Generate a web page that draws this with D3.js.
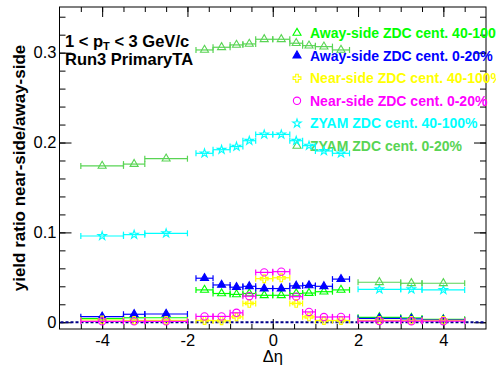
<!DOCTYPE html>
<html lang="en">
<head>
  <meta charset="UTF-8">
  <title>Yield ratio vs delta eta</title>
  <script src="https://d3js.org/d3.v7.min.js"></script>
  <style>
    body { margin: 0; background: #fff; }
    text { font-family: "Liberation Sans", Arial, Helvetica, sans-serif; }
  </style>
</head>
<body>
<svg id="chart"></svg>
<script>
  // bin centres and half widths (near-side region, then far region)
  const nearX = [-1.6, -1.2, -0.85, -0.55, -0.2, 0.2, 0.55, 0.85, 1.2, 1.6];
  const nearXerr = [0.2, 0.2, 0.15, 0.15, 0.2, 0.2, 0.15, 0.15, 0.2, 0.2];
  const farX = [-4, -3.25, -2.5, 2.5, 3.25, 4];
  const farXerr = [0.5, 0.25, 0.5, 0.5, 0.25, 0.5];

  // series values: near bins followed by far bins
  const awayPeri = [0.036, 0.032, 0.031, 0.032, 0.030, 0.030, 0.032, 0.0325, 0.034, 0.036,
                    0.004, 0.005, 0.005, 0.0055, 0.0048, 0.0033];
  const awayCent = [0.049, 0.0415, 0.039, 0.040, 0.0375, 0.0375, 0.0405, 0.041, 0.040, 0.048,
                    0.0062, 0.0089, 0.0092, 0.0044, 0.0037, 0.0026];
  const nearPeri = [0.002, 0.0017, 0.006, 0.021, 0.0485, 0.0495, 0.021, 0.006, 0.002, 0.002,
                    0.0025, 0.002, 0.002, 0.002, 0.002, 0.002];
  const nearCent = [0.0065, 0.0065, 0.0105, 0.029, 0.0555, 0.0563, 0.0285, 0.0115, 0.0058, 0.006,
                    0.001, 0.001, 0.001, 0.0013, 0.0012, 0.0012];
  const zyamPeri = [0.188, 0.192, 0.1955, 0.202, 0.209, 0.209, 0.202, 0.1965, 0.1906, 0.188,
                    0.096, 0.0975, 0.099, 0.0367, 0.0367, 0.036];
  const zyamCent = [0.303, 0.306, 0.3086, 0.3097, 0.3149, 0.3149, 0.3105, 0.3078, 0.3067, 0.303,
                    0.174, 0.176, 0.182, 0.0445, 0.0434, 0.0434];

  const xMajor = [-4, -2, 0, 2, 4];
  const xMinor = d3.range(-4.5, 5, 0.5);
  const yMajor = [0, 0.1, 0.2, 0.3];
  const yMinor = d3.range(0, 0.35, 0.02);

  const series = [
    { name: "Away-side ZDC cent. 40-100%", values: awayPeri, color: "#00ff00", symbol: d3.symbolTriangle, filled: false },
    { name: "Away-side ZDC cent. 0-20%", values: awayCent, color: "#0000ff", symbol: d3.symbolTriangle, filled: true },
    { name: "Near-side ZDC cent. 40-100%", values: nearPeri, color: "#ffff00", symbol: d3.symbolCross, filled: false },
    { name: "Near-side ZDC cent. 0-20%", values: nearCent, color: "#ff00ff", symbol: d3.symbolCircle, filled: false },
    { name: "ZYAM ZDC cent. 40-100%", values: zyamPeri, color: "#00ffff", symbol: d3.symbolStar, filled: false },
    { name: "ZYAM ZDC cent. 0-20%", values: zyamCent, color: "#59d454", symbol: d3.symbolTriangle, filled: false }
  ];
  const symSize = new Map([[d3.symbolTriangle, 28], [d3.symbolCross, 34], [d3.symbolCircle, 42], [d3.symbolStar, 22]]);

  const W = 496, H = 374;
  const frame = { left: 59.5, right: 486, top: 7, bottom: 329 };

  const svg = d3.select("#chart").attr("width", W).attr("height", H);

  const x = d3.scaleLinear().domain([-5, 5]).range([frame.left, frame.right]);
  const y = d3.scaleLinear().domain([-0.0075, 0.3508]).range([frame.bottom, frame.top]);

  const allX = nearX.concat(farX);
  const allXerr = nearXerr.concat(farXerr);

  // axes: ticks point into the frame
  function axisGroup(axis, transform) {
    const g = svg.append("g").attr("transform", transform).call(axis);
    g.select(".domain").remove();
    g.selectAll(".tick line").attr("stroke", "#000");
    return g;
  }
  const bottom = `translate(0,${frame.bottom})`;
  axisGroup(d3.axisBottom(x).tickValues(xMinor).tickSize(-5).tickFormat(""), bottom);
  axisGroup(d3.axisTop(x).tickValues(xMinor).tickSize(-5).tickFormat(""), `translate(0,${frame.top})`);
  axisGroup(d3.axisTop(x).tickValues(xMajor).tickSize(-10).tickFormat(""), `translate(0,${frame.top})`);
  const xg = axisGroup(d3.axisBottom(x).tickValues(xMajor).tickSize(-10).tickPadding(5)
    .tickFormat(d => String(d)), bottom);
  xg.selectAll("text").attr("font-size", 16.5).attr("fill", "#000");

  axisGroup(d3.axisLeft(y).tickValues(yMinor).tickSize(-6).tickFormat(""), `translate(${frame.left},0)`);
  axisGroup(d3.axisRight(y).tickValues(yMinor).tickSize(-6).tickFormat(""), `translate(${frame.right},0)`);
  axisGroup(d3.axisRight(y).tickValues(yMajor).tickSize(-12).tickFormat(""), `translate(${frame.right},0)`);
  const yg = axisGroup(d3.axisLeft(y).tickValues(yMajor).tickSize(-12).tickPadding(3)
    .tickFormat(d => d === 0 ? "0" : d3.format(".1f")(d)), `translate(${frame.left},0)`);
  yg.selectAll("text").attr("font-size", 16.5).attr("fill", "#000");

  svg.append("rect")
    .attr("x", frame.left).attr("y", frame.top)
    .attr("width", frame.right - frame.left).attr("height", frame.bottom - frame.top)
    .attr("fill", "none").attr("stroke", "#000").attr("stroke-width", 1);

  // zero line
  svg.append("line")
    .attr("x1", frame.left + 1).attr("x2", frame.right - 1)
    .attr("y1", y(0)).attr("y2", y(0))
    .attr("stroke", "#00008b").attr("stroke-width", 2).attr("stroke-dasharray", "3,2");

  // axis titles
  svg.append("text")
    .attr("transform", `translate(25,${(frame.top + frame.bottom) / 2}) rotate(-90)`)
    .attr("text-anchor", "middle").attr("font-size", 17).attr("font-weight", "bold")
    .text("yield ratio near-side/away-side");
  svg.append("text")
    .attr("x", x(0)).attr("y", 362).attr("text-anchor", "middle").attr("font-size", 16.5)
    .text("Δη");

  // info text
  const t1 = svg.append("text").attr("x", 65).attr("y", 47)
    .attr("font-size", 16.5).attr("font-weight", "bold");
  t1.append("tspan").text("1 < p");
  t1.append("tspan").attr("dy", 3).attr("font-size", 11).text("T");
  t1.append("tspan").attr("dy", -3).text(" < 3 GeV/c");
  svg.append("text").attr("x", 65).attr("y", 65)
    .attr("font-size", 16.5).attr("font-weight", "bold").text("Run3 PrimaryTA");

  function marker(sel, s) {
    sel.attr("d", d3.symbol().type(s.symbol).size(symSize.get(s.symbol)))
      .attr("fill", s.filled ? s.color : "none")
      .attr("stroke", s.color).attr("stroke-width", 1.1);
  }

  // legend (drawn under the data)
  const legend = svg.append("g");
  series.forEach((s, i) => {
    const ly = 33 + i * 22.6;
    legend.append("path").attr("transform", `translate(297,${ly})`).call(marker, s);
    legend.append("text").attr("x", 310).attr("y", ly).attr("dy", "0.36em")
      .attr("font-size", 14).attr("font-weight", "bold").attr("fill", s.color)
      .text(s.name);
  });

  // data with horizontal error bars
  series.forEach(s => {
    const pts = s.values.map((v, i) => ({ x: allX[i], ex: allXerr[i], y: v }));
    const g = svg.append("g").attr("stroke", s.color).attr("stroke-width", 1.2);
    pts.forEach(p => {
      const py = y(p.y), xl = x(p.x - p.ex), xr = x(p.x + p.ex);
      g.append("line").attr("x1", xl).attr("x2", xr).attr("y1", py).attr("y2", py);
      g.append("line").attr("x1", xl).attr("x2", xl).attr("y1", py - 3).attr("y2", py + 3);
      g.append("line").attr("x1", xr).attr("x2", xr).attr("y1", py - 3).attr("y2", py + 3);
    });
    svg.append("g").selectAll("path").data(pts).join("path")
      .attr("transform", p => `translate(${x(p.x)},${y(p.y)})`)
      .call(marker, s);
  });
</script>
</body>
</html>
